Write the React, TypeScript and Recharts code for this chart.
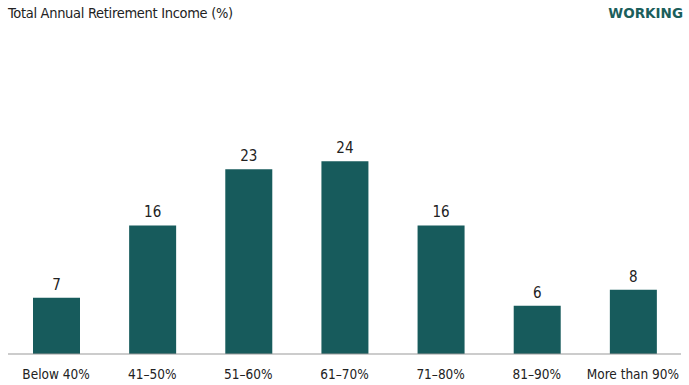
import React from 'react';
import { BarChart, Bar, XAxis, YAxis, LabelList } from 'recharts';

const categories = ['Below 40%', '41–50%', '51–60%', '61–70%', '71–80%', '81–90%', 'More than 90%'];
const values = [7, 16, 23, 24, 16, 6, 8];

const data = categories.map((c, i) => ({ name: c, value: values[i] }));

const FONT = '"Liberation Sans Narrow", "DejaVu Sans Condensed", "Roboto Condensed", sans-serif';

const Tick = (props: any) => {
  const { x, y, payload } = props;
  return (
    <text x={x} y={y + 17} textAnchor="middle" fontSize={13.5} fill="#222" fontFamily={FONT}>
      {payload.value}
    </text>
  );
};

export default function App() {
  return (
    <div style={{ position: 'absolute', left: 0, top: 0, width: 689, height: 385, background: '#fff' }}>
      <div style={{ position: 'absolute', left: 8, top: 5, fontFamily: FONT, fontSize: 14.5, letterSpacing: -0.3, color: '#222' }}>
        Total Annual Retirement Income (%)
      </div>
      <div style={{ position: 'absolute', right: 6, top: 5, fontFamily: '"DejaVu Sans", sans-serif', fontWeight: 'bold', fontSize: 13.5, color: '#1b5e5b', letterSpacing: 0 }}>
        WORKING
      </div>
      <BarChart width={689} height={385} data={data} margin={{ top: 113, right: 8, bottom: 1, left: 8 }} barCategoryGap={0}>
        <XAxis dataKey="name" tickLine={false} axisLine={{ stroke: '#999', strokeWidth: 1 }} tick={<Tick />} height={30} interval={0} />
        <YAxis hide domain={[0, 30]} />
        <Bar dataKey="value" fill="#175b5c" barSize={47} isAnimationActive={false}>
          <LabelList dataKey="value" position="top" offset={8} fill="#222" fontSize={15} fontFamily={FONT} />
        </Bar>
      </BarChart>
    </div>
  );
}
